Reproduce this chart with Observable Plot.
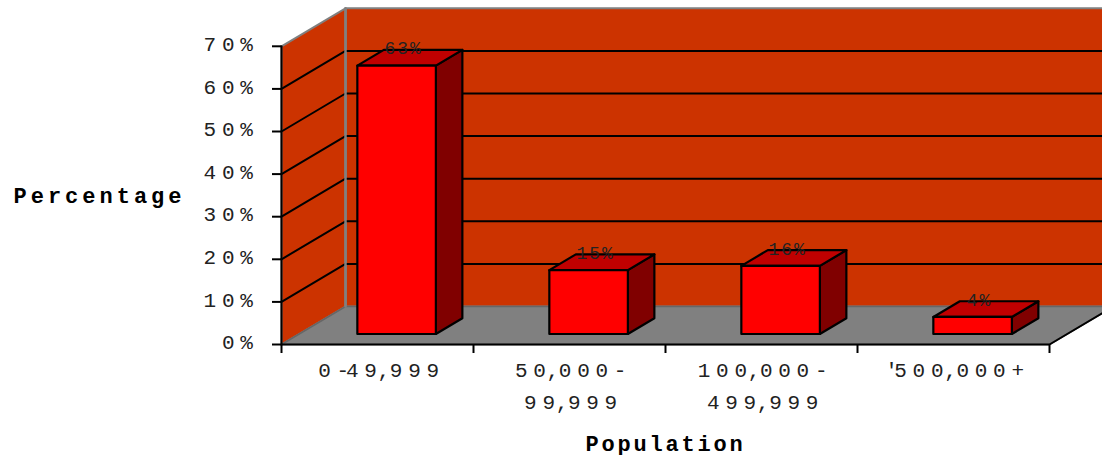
<!DOCTYPE html>
<html>
<head>
<meta charset="utf-8">
<script src="https://cdn.jsdelivr.net/npm/d3@7"></script>
<script src="https://cdn.jsdelivr.net/npm/@observablehq/plot@0.6"></script>
<style>
html,body{margin:0;padding:0;background:#fff;overflow:hidden}
svg text{letter-spacing:5.7px;fill:#222}
svg text[aria-label="bar-value"]{letter-spacing:2px}
svg text[aria-label="y-title"]{letter-spacing:4px;fill:#000}
svg text[aria-label="x-title"]{letter-spacing:2.8px;fill:#000}
</style>
</head>
<body>
<div id="chart"></div>
<script>
const categories = ["0-49,999", "50,000-\n99,999", "100,000-\n499,999", "'500,000+"];
const percentages = [63, 15, 16, 4];
const yTicks = [0, 10, 20, 30, 40, 50, 60, 70];
const xTicks = [0, 1, 2, 3, 4];
const yTitle = "Percentage";
const xTitle = "Population";

// oblique projection: depth 0 = front plane, depth 1 = back wall
const depthX = 1 / 3, depthY = 8.92;
const P = (c, d, v) => ({x: c + d * depthX, y: v + d * depthY});
const poly = (id, pts) => pts.map(([c, d, v]) => ({id, ...P(c, d, v)}));

const maxV = yTicks[yTicks.length - 1];
const n = categories.length;
const backWall = poly("back", [[0,1,0],[n,1,0],[n,1,maxV],[0,1,maxV]]);
const sideWall = poly("side", [[0,0,0],[0,1,0],[0,1,maxV],[0,0,maxV]]);
const floorFace = poly("floor", [[0,0,0],[n,0,0],[n,1,0],[0,1,0]]);

const inner = yTicks.slice(1, -1);
const grid = inner.flatMap(v => poly("g" + v, [[0,0,v],[0,1,v],[n,1,v]]));

const bx0 = 0.303, bx1 = 0.712, d0 = 0.276, d1 = 0.69;
const fronts = percentages.flatMap((v, i) => poly("f" + i, [[i+bx0,d0,0],[i+bx1,d0,0],[i+bx1,d0,v],[i+bx0,d0,v]]));
const sides  = percentages.flatMap((v, i) => poly("s" + i, [[i+bx1,d0,0],[i+bx1,d1,0],[i+bx1,d1,v],[i+bx1,d0,v]]));
const tops   = percentages.flatMap((v, i) => poly("t" + i, [[i+bx0,d0,v],[i+bx1,d0,v],[i+bx1,d1,v],[i+bx0,d1,v]]));
const valueLabels = percentages.map((v, i) => ({...P(i + (bx0 + bx1) / 2, d0, v), label: v + "%"}));
const catLabels = categories.map((label, i) => ({x: i + 0.5, label}));

const faces = (data, fill) => Plot.line(data, {x: "x", y: "y", z: "id", curve: "linear-closed", fill, stroke: "#000", strokeWidth: 2.2});
const path = (data, stroke, strokeWidth) => Plot.line(data, {x: "x", y: "y", z: "id", stroke, strokeWidth});

const chart = Plot.plot({
  width: 1102, height: 455,
  marginLeft: 281, marginRight: 0, marginTop: 0, marginBottom: 111,
  x: {domain: [0, 821 / 192], axis: null},
  y: {domain: [0, 344 / 4.26], axis: null},
  style: {background: "#fff", fontFamily: "'Liberation Mono'", overflow: "hidden"},
  marks: [
    Plot.line(backWall, {x: "x", y: "y", curve: "linear-closed", fill: "#CC3300", stroke: "#808080", strokeWidth: 2}),
    Plot.line(sideWall, {x: "x", y: "y", curve: "linear-closed", fill: "#CC3300", stroke: "#808080", strokeWidth: 2}),
    Plot.line(floorFace, {x: "x", y: "y", curve: "linear-closed", fill: "#808080", stroke: "#666", strokeWidth: 1.5}),
    path(grid, "#000", 2),
    path(poly("corner", [[0,1,0],[0,1,maxV]]), "#808080", 2.5),
    path(poly("front", [[0,0,0],[n,0,0],[n,1,0]]), "#000", 2),
    path(poly("edge", [[0,0,0],[0,0,maxV]]), "#000", 2),
    Plot.axisY({ticks: yTicks, tickFormat: () => "", tickSize: 9, strokeWidth: 2, stroke: "#000", label: null}),
    Plot.axisY({ticks: yTicks, tickFormat: d => d + "%", tickSize: 0, tickPadding: 23, dy: -2, fontSize: 21, label: null}),
    Plot.axisX({ticks: xTicks, tickFormat: () => "", tickSize: 9, strokeWidth: 2, stroke: "#000", label: null}),
    faces(sides, "#800000"),
    faces(tops, "#C00000"),
    faces(fronts, "#FF0000"),
    Plot.text(valueLabels, {x: "x", y: "y", text: "label", dx: 7, dy: -17, fontSize: 18, ariaLabel: () => "bar-value"}),
    Plot.text(catLabels, {x: "x", text: "label", frameAnchor: "bottom", lineAnchor: "top", dx: 4, dy: 10, fontSize: 21, lineHeight: 1.524, ariaLabel: () => "cat-label"}),
    Plot.text([yTitle], {text: d => d, frameAnchor: "top-left", textAnchor: "start", lineAnchor: "middle", dx: -268, dy: 195, fontSize: 22, fontWeight: "bold", ariaLabel: () => "y-title"}),
    Plot.text([xTitle], {text: d => d, frameAnchor: "bottom-left", textAnchor: "middle", lineAnchor: "middle", dx: 384, dy: 99, fontSize: 22, fontWeight: "bold", ariaLabel: () => "x-title"})
  ]
});
document.getElementById("chart").append(chart);

// the reference's labels close up around punctuation
const tighten = s => s.replace(/,|-(?=.)|'/g, c =>
  c === "," ? '<tspan dx="-5" style="letter-spacing:-0.3px">,</tspan>'
  : c === "-" ? '<tspan style="letter-spacing:-3.2px">-</tspan>'
  : '<tspan style="letter-spacing:-3.6px">\'</tspan>');
d3.select(chart).selectAll('text[aria-label="cat-label"]').each(function () {
  const lines = this.querySelectorAll("tspan");
  (lines.length ? [...lines] : [this]).forEach(el => { el.innerHTML = tighten(el.textContent); });
});
</script>
</body>
</html>
